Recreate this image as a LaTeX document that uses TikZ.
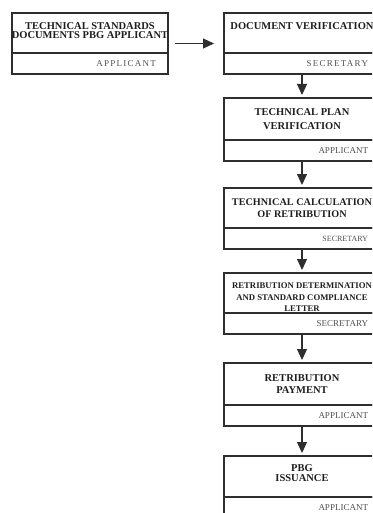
\documentclass[tikz,border=0pt]{standalone}
\usepackage{fontspec}
\setmainfont{Liberation Serif}
\usetikzlibrary{calc, positioning, arrows.meta}
\definecolor{frame}{HTML}{2E2E2E}
\definecolor{ink}{HTML}{1E1E1E}
\definecolor{role}{HTML}{505050}
\tikzset{>={Triangle[width=10pt,length=11pt]}}

\begin{document}
\begin{tikzpicture}[x=1pt, y=-1pt,
    stage/.style={draw=frame, line width=1.4pt, minimum width=156pt, minimum height=40pt,
      inner sep=0pt, outer sep=0pt, align=center, text=ink,
      font=\fontsize{10.5}{12.5}\selectfont\bfseries},
    actor/.style={draw=frame, line width=1.4pt, minimum width=156pt, minimum height=21pt,
      inner sep=0pt, outer sep=0pt, text width=132pt, align=right, text=role,
      font=\fontsize{9}{10}\selectfont},
    wide/.style={font=\fontsize{9}{10}\selectfont\addfontfeature{LetterSpace=14}},
    flow/.style={->, draw=frame, line width=1.1pt, shorten >=3pt}]
    \useasboundingbox (0,0) rectangle (372,513);
    \clip (0,0) rectangle (372,513);

    % applicant side
    \node[stage, anchor=north] (tech) at (90,13) {TECHNICAL STANDARDS\\[-3pt]DOCUMENTS PBG APPLICANT\\[-8pt]\mbox{}};
    \node[actor, wide, below=0pt of tech] (techby) {APPLICANT};

    % main flow
    \node[stage, anchor=north] (doc) at (302,13) {DOCUMENT VERIFICATION\\[2pt]\mbox{}};
    \node[actor, wide, below=0pt of doc] (docby) {SECRETARY};

    \node[stage, anchor=north, minimum height=42pt] (plan) at (302,98) {TECHNICAL PLAN\\[2pt]VERIFICATION};
    \node[actor, below=0pt of plan] (planby) {APPLICANT};

    \node[stage, anchor=north, font=\fontsize{10.2}{12.5}\selectfont\bfseries] (calc) at (302,188)
      {TECHNICAL CALCULATION\\OF RETRIBUTION};
    \node[actor, font=\fontsize{8}{9}\selectfont, below=0pt of calc] (calcby) {SECRETARY};

    \node[stage, anchor=north, font=\fontsize{8.7}{11.3}\selectfont\bfseries] (letter) at (302,273)
      {\rule{0pt}{14pt}RETRIBUTION DETERMINATION\\AND STANDARD COMPLIANCE\\LETTER};
    \node[actor, below=0pt of letter] (letterby) {SECRETARY};

    \node[stage, anchor=north, minimum height=42pt] (pay) at (302,363) {RETRIBUTION\\PAYMENT};
    \node[actor, below=0pt of pay] (payby) {APPLICANT};

    \node[stage, anchor=north, minimum height=41pt] (pbg) at (302,456) {PBG\\[-2pt]ISSUANCE\\[-6pt]\mbox{}};
    \node[actor, minimum height=22pt, below=0pt of pbg] (pbgby) {APPLICANT};

    \draw[flow, shorten <=7pt, shorten >=10pt]
      ($(tech.north east)!0.5!(techby.south east)$) -- ($(doc.north west)!0.5!(docby.south west)$);
    \draw[flow] (docby) -- (plan);
    \draw[flow] (planby) -- (calc);
    \draw[flow] (calcby) -- (letter);
    \draw[flow] (letterby) -- (pay);
    \draw[flow] (payby) -- (pbg);
\end{tikzpicture}
\end{document}
